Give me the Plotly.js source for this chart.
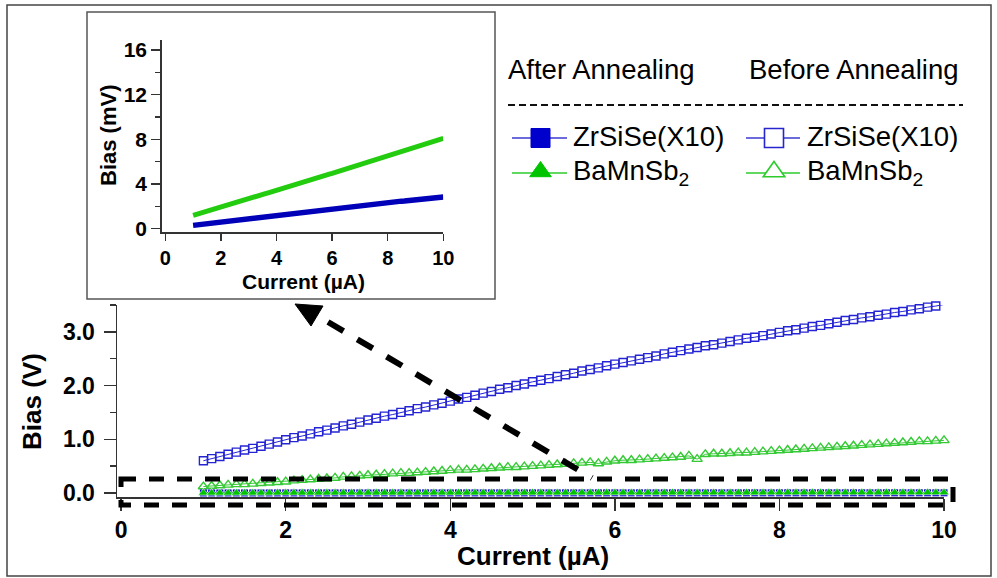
<!DOCTYPE html>
<html>
<head>
<meta charset="utf-8">
<script src="https://cdn.plot.ly/plotly-3.0.1.min.js"></script>
<style>
  html, body { margin: 0; padding: 0; background: #fff; }
  #chart { width: 997px; height: 578px; }
</style>
</head>
<body>
<div id="chart"></div>
<script>
// Current sweep (µA)
var current = [
  1.0,1.1,1.2,1.3,1.4,1.5,1.6,1.7,1.8,1.9,
  2.0,2.1,2.2,2.3,2.4,2.5,2.6,2.7,2.8,2.9,
  3.0,3.1,3.2,3.3,3.4,3.5,3.6,3.7,3.8,3.9,
  4.0,4.1,4.2,4.3,4.4,4.5,4.6,4.7,4.8,4.9,
  5.0,5.1,5.2,5.3,5.4,5.5,5.6,5.7,5.8,5.9,
  6.0,6.1,6.2,6.3,6.4,6.5,6.6,6.7,6.8,6.9,
  7.0,7.1,7.2,7.3,7.4,7.5,7.6,7.7,7.8,7.9,
  8.0,8.1,8.2,8.3,8.4,8.5,8.6,8.7,8.8,8.9,
  9.0,9.1,9.2,9.3,9.4,9.5,9.6,9.7,9.8,9.9,10.0
];

// Before annealing, bias in V
var zrsiseBefore = [
  0.60,0.64,0.68,0.72,0.76,0.80,0.83,0.87,0.91,0.95,
  0.99,1.03,1.06,1.10,1.14,1.17,1.21,1.25,1.28,1.32,
  1.36,1.39,1.43,1.46,1.50,1.53,1.57,1.60,1.64,1.67,
  1.71,1.75,1.78,1.82,1.86,1.89,1.93,1.96,2.00,2.03,
  2.07,2.10,2.13,2.17,2.20,2.23,2.27,2.30,2.33,2.37,
  2.40,2.43,2.46,2.49,2.52,2.55,2.59,2.62,2.65,2.68,
  2.71,2.74,2.76,2.79,2.82,2.85,2.88,2.90,2.93,2.96,
  2.99,3.02,3.04,3.07,3.10,3.12,3.15,3.18,3.21,3.23,
  3.26,3.28,3.31,3.33,3.36,3.38,3.41,3.43,3.46,3.48,3.51
];
var bamnsb2Before = [
  0.12,0.13,0.14,0.15,0.16,0.16,0.17,0.18,0.19,0.20,
  0.21,0.23,0.24,0.25,0.26,0.27,0.28,0.30,0.31,0.32,
  0.33,0.34,0.35,0.36,0.37,0.37,0.38,0.39,0.40,0.41,
  0.42,0.43,0.43,0.44,0.45,0.46,0.47,0.48,0.48,0.49,
  0.50,0.51,0.52,0.53,0.54,0.55,0.56,0.57,0.55,0.58,
  0.60,0.61,0.61,0.62,0.63,0.64,0.65,0.66,0.67,0.69,
  0.63,0.72,0.73,0.73,0.74,0.75,0.75,0.76,0.77,0.78,
  0.79,0.80,0.81,0.82,0.83,0.84,0.85,0.86,0.87,0.88,
  0.89,0.90,0.91,0.92,0.93,0.94,0.95,0.96,0.96,0.97,0.98
];

// After annealing, bias in mV
var zrsiseAfter = [
  0.30,0.33,0.36,0.39,0.42,0.45,0.48,0.51,0.55,0.58,
  0.61,0.64,0.67,0.70,0.73,0.76,0.79,0.82,0.85,0.88,
  0.91,0.94,0.97,1.00,1.04,1.07,1.10,1.13,1.16,1.19,
  1.22,1.25,1.28,1.31,1.34,1.37,1.40,1.43,1.46,1.49,
  1.52,1.55,1.58,1.61,1.64,1.68,1.71,1.74,1.77,1.80,
  1.83,1.86,1.88,1.91,1.93,1.96,1.98,2.01,2.03,2.06,
  2.09,2.11,2.14,2.16,2.19,2.21,2.24,2.26,2.29,2.31,
  2.34,2.37,2.39,2.42,2.44,2.47,2.49,2.52,2.54,2.57,
  2.60,2.62,2.65,2.67,2.70,2.72,2.75,2.77,2.80,2.82,2.85
];
var bamnsb2After = [
  1.20,1.27,1.34,1.41,1.48,1.55,1.62,1.69,1.76,1.83,
  1.90,1.98,2.06,2.13,2.21,2.29,2.37,2.44,2.52,2.60,
  2.68,2.75,2.83,2.91,2.99,3.06,3.14,3.22,3.30,3.37,
  3.45,3.53,3.60,3.68,3.75,3.83,3.90,3.98,4.05,4.13,
  4.20,4.28,4.35,4.43,4.50,4.58,4.65,4.73,4.80,4.88,
  4.95,5.03,5.12,5.20,5.28,5.36,5.45,5.53,5.61,5.69,
  5.78,5.86,5.94,6.02,6.11,6.19,6.27,6.35,6.44,6.52,
  6.60,6.68,6.75,6.83,6.90,6.98,7.05,7.13,7.20,7.28,
  7.35,7.43,7.50,7.58,7.65,7.73,7.80,7.88,7.95,8.03,8.10
];

var xTicks = [0, 2, 4, 6, 8, 10];
var mainYTicks = [0, 1, 2, 3];
var insetYTicks = [0, 4, 8, 12, 16];
var legendHeaders = ['After Annealing', 'Before Annealing'];
var sampleNames = ['ZrSiSe(X10)', 'BaMnSb<sub>2</sub>'];

var W = 997, H = 578;
function px(x) { return x / W; }
function py(y) { return 1 - y / H; }

var FONT = 'Liberation Sans, Arial, Helvetica, sans-serif';
var BLUE = '#2424d4', GREEN = '#35c935';
var BLUE_F = '#0000cc', GREEN_F = '#00c400';

function toVolts(arr) { return arr.map(function (v) { return v / 1000; }); }

var traces = [
  { x: current, y: zrsiseBefore, xaxis: 'x', yaxis: 'y', mode: 'lines+markers',
    line: { color: BLUE, width: 1 },
    marker: { symbol: 'square-open', size: 8, color: BLUE, line: { width: 1.4, color: BLUE } },
    cliponaxis: false },
  { x: current, y: bamnsb2Before, xaxis: 'x', yaxis: 'y', mode: 'lines+markers',
    line: { color: GREEN, width: 1 },
    marker: { symbol: 'triangle-up-open', size: 9, color: GREEN, line: { width: 1.4, color: GREEN } },
    cliponaxis: false },
  { x: current, y: toVolts(zrsiseAfter), xaxis: 'x', yaxis: 'y', mode: 'lines+markers',
    line: { color: BLUE_F, width: 1.5 },
    marker: { symbol: 'square', size: 7, color: BLUE_F },
    cliponaxis: false },
  { x: current, y: toVolts(bamnsb2After), xaxis: 'x', yaxis: 'y', mode: 'lines+markers',
    line: { color: GREEN_F, width: 1 },
    marker: { symbol: 'triangle-up', size: 9, color: GREEN_F, line: { width: 0.6, color: '#ffffff' } },
    cliponaxis: false },
  // inset: after annealing in mV
  { x: current, y: bamnsb2After, xaxis: 'x2', yaxis: 'y2', mode: 'lines',
    line: { color: '#24cc10', width: 5 }, cliponaxis: false },
  { x: current, y: zrsiseAfter, xaxis: 'x2', yaxis: 'y2', mode: 'lines',
    line: { color: '#0000b8', width: 5.5 }, cliponaxis: false }
];

var axisCommon = {
  showline: true, linecolor: '#333', linewidth: 1.5,
  ticks: 'outside', tickcolor: '#333', tickwidth: 1.5,
  showgrid: false, zeroline: false, fixedrange: true,
  tickfont: { family: FONT, color: '#000', weight: 700 }
};
function ax(extra) { return Object.assign({}, JSON.parse(JSON.stringify(axisCommon)), extra); }

var shapes = [];
// outer frame
shapes.push({ type: 'rect', xref: 'paper', yref: 'paper', layer: 'below',
  x0: px(7), x1: px(991), y0: py(5), y1: py(576),
  line: { color: '#444', width: 1.5 }, fillcolor: 'rgba(0,0,0,0)' });
// inset box
shapes.push({ type: 'rect', xref: 'paper', yref: 'paper', layer: 'below',
  x0: px(87), x1: px(495), y0: py(12), y1: py(299),
  line: { color: '#555', width: 1.5 }, fillcolor: '#ffffff' });
// dashed zoom region around the near-zero traces
shapes.push({ type: 'rect', xref: 'paper', yref: 'paper', layer: 'above',
  x0: px(121), x1: px(953), y0: py(479), y1: py(505),
  line: { color: '#000', width: 5, dash: '15px,13px' }, fillcolor: 'rgba(0,0,0,0)' });
// dashed arrow towards the inset
shapes.push({ type: 'line', xref: 'paper', yref: 'paper', layer: 'above',
  x0: px(328), y0: py(322), x1: px(592), y1: py(478),
  line: { color: '#000', width: 6, dash: '18px,16px' } });
shapes.push({ type: 'path', xref: 'paper', yref: 'paper', layer: 'above',
  path: 'M' + px(295) + ',' + py(304) + ' L' + px(323) + ',' + py(306) + ' L' + px(311) + ',' + py(326) + ' Z',
  fillcolor: '#000', line: { color: '#000', width: 1 } });

// legend block
shapes.push({ type: 'line', xref: 'paper', yref: 'paper',
  x0: px(508), x1: px(963), y0: py(105), y1: py(105),
  line: { color: '#111', width: 2, dash: '7px,4px' } });
var rowY = [138, 173];
var colLine = [[512, 567], [746, 800]];
var colMark = [540.5, 774];
for (var c = 0; c < 2; c++) {
  shapes.push({ type: 'line', xref: 'paper', yref: 'paper',
    x0: px(colLine[c][0]), x1: px(colLine[c][1]), y0: py(rowY[0]), y1: py(rowY[0]),
    line: { color: '#3a3ad0', width: 1.3 } });
  shapes.push({ type: 'line', xref: 'paper', yref: 'paper',
    x0: px(colLine[c][0]), x1: px(colLine[c][1]), y0: py(rowY[1]), y1: py(rowY[1]),
    line: { color: '#2ccc2c', width: 1.3 } });
  var filled = (c === 0);
  var s = 9.5, cx = colMark[c];
  shapes.push({ type: 'rect', xref: 'paper', yref: 'paper',
    x0: px(cx - s), x1: px(cx + s), y0: py(rowY[0] - s), y1: py(rowY[0] + s),
    line: { color: filled ? BLUE_F : '#2626cc', width: filled ? 1 : 1.6 },
    fillcolor: filled ? BLUE_F : '#ffffff' });
  var tY = rowY[1];
  shapes.push({ type: 'path', xref: 'paper', yref: 'paper',
    path: 'M' + px(cx) + ',' + py(tY - 11.5) + ' L' + px(cx + 10.8) + ',' + py(tY + 3.7) +
          ' L' + px(cx - 10.8) + ',' + py(tY + 3.7) + ' Z',
    line: { color: filled ? GREEN_F : '#2ccc2c', width: filled ? 1 : 1.6 },
    fillcolor: filled ? GREEN_F : '#ffffff' });
}

var annotations = [];
function label(text, x, y, size, bold, extra) {
  annotations.push(Object.assign({
    text: text, xref: 'paper', yref: 'paper', x: px(x), y: py(y),
    xanchor: 'left', yanchor: 'middle', showarrow: false,
    font: { family: FONT, size: size, color: '#000', weight: bold ? 700 : 400 }
  }, extra || {}));
}
// axis titles
label('Current (µA)', 533, 556, 26, true, { xanchor: 'center' });
label('Bias (V)', 32, 402, 26, true, { xanchor: 'center', textangle: -90 });
label('Current (µA)', 303.5, 281, 21, true, { xanchor: 'center' });
label('Bias (mV)', 108, 136, 22, true, { xanchor: 'center', textangle: -90 });
// legend text
label(legendHeaders[0], 506, 70, 27.5, false);
label(legendHeaders[1], 747, 70, 27.5, false);
label(sampleNames[0], 571, 137, 27.5, false);
label(sampleNames[1], 571, 172, 27.5, false);
label(sampleNames[0], 805, 137, 27.5, false);
label(sampleNames[1], 805, 172, 27.5, false);

var layout = {
  width: W, height: H,
  margin: { l: 0, r: 0, t: 0, b: 0 },
  paper_bgcolor: '#ffffff', plot_bgcolor: 'rgba(0,0,0,0)',
  showlegend: false,
  xaxis: ax({ domain: [px(117), px(944)], anchor: 'y', range: [-0.05, 10.0],
    tickvals: xTicks, ticklen: 12, tickfont: { family: FONT, size: 23, color: '#000', weight: 700 } }),
  yaxis: ax({ domain: [py(497), py(305)], anchor: 'x', range: [-0.075, 3.5],
    tickvals: mainYTicks, tickformat: '.1f', ticklen: 12, ticklabelstandoff: 4,
    tickfont: { family: FONT, size: 23, color: '#000', weight: 700 },
    minor: { dtick: 0.5, tick0: 0, ticks: 'outside', ticklen: 6, tickcolor: '#333', tickwidth: 1.5 } }),
  xaxis2: ax({ domain: [px(161.7), px(443.3)], anchor: 'y2', range: [-0.13, 10.0],
    tickvals: xTicks, ticklen: 7, tickfont: { family: FONT, size: 20, color: '#000', weight: 700 } }),
  yaxis2: ax({ domain: [py(232.3), py(40)], anchor: 'x2', range: [-0.32, 16.9],
    tickvals: insetYTicks, ticklen: 9,
    tickfont: { family: FONT, size: 21, color: '#000', weight: 700 },
    minor: { dtick: 2, tick0: 0, ticks: 'outside', ticklen: 5, tickcolor: '#333', tickwidth: 1.5 } }),
  shapes: shapes,
  annotations: annotations
};

Plotly.newPlot('chart', traces, layout, { staticPlot: true, displayModeBar: false });
</script>
</body>
</html>
